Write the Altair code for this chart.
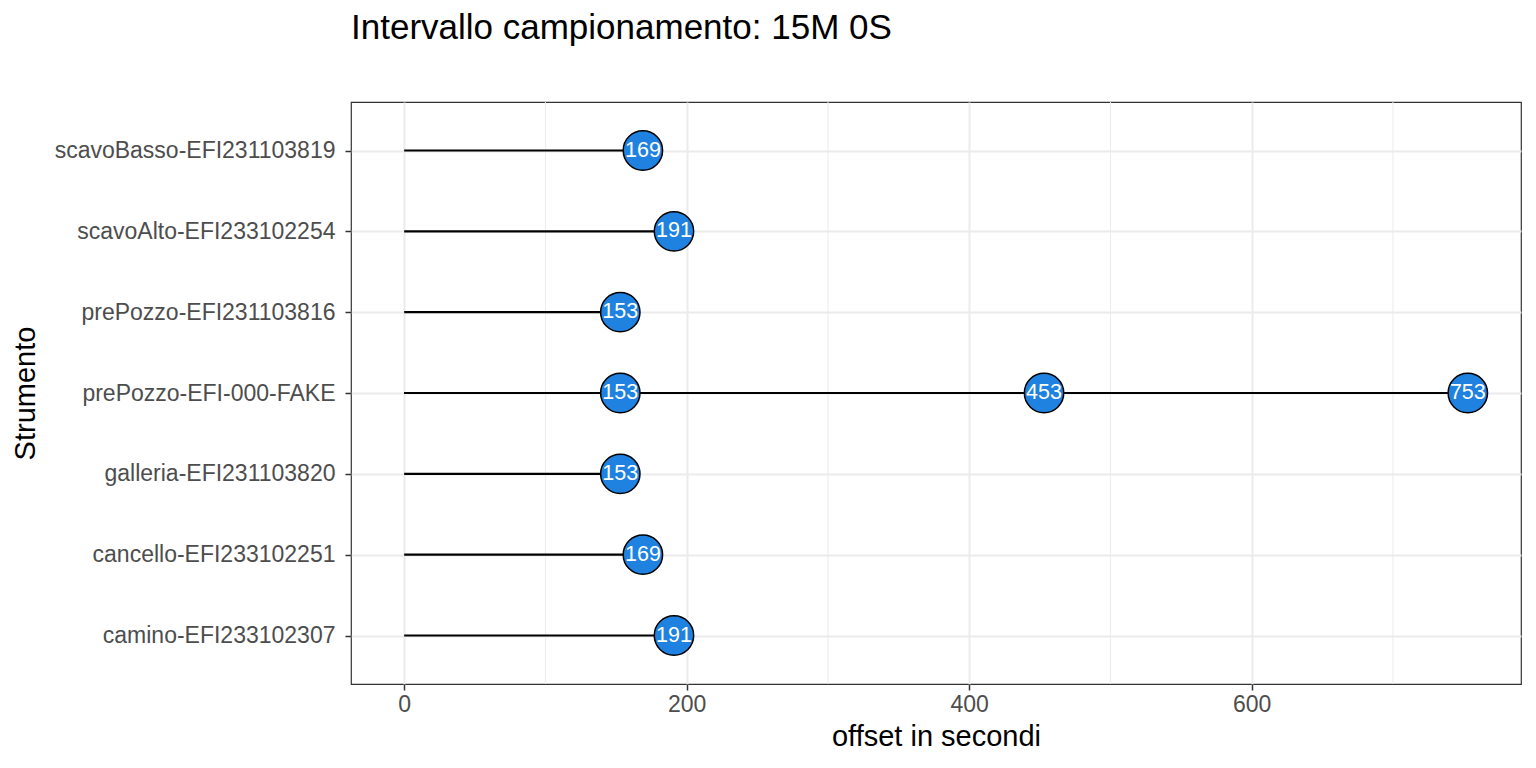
import altair as alt
import pandas as pd

instruments = [
    "scavoBasso-EFI231103819",
    "scavoAlto-EFI233102254",
    "prePozzo-EFI231103816",
    "prePozzo-EFI-000-FAKE",
    "prePozzo-EFI-000-FAKE",
    "prePozzo-EFI-000-FAKE",
    "galleria-EFI231103820",
    "cancello-EFI233102251",
    "camino-EFI233102307",
]
offsets = [169, 191, 153, 153, 453, 753, 153, 169, 191]

order = [
    "scavoBasso-EFI231103819",
    "scavoAlto-EFI233102254",
    "prePozzo-EFI231103816",
    "prePozzo-EFI-000-FAKE",
    "galleria-EFI231103820",
    "cancello-EFI233102251",
    "camino-EFI233102307",
]
major_breaks = [0, 200, 400, 600]
minor_breaks = [100, 300, 500, 700]
x_domain = [-37.65, 790.65]

df = pd.DataFrame({"strumento": instruments, "offset": offsets, "zero": [0] * len(offsets)})
minor_df = pd.DataFrame({"v": minor_breaks})

FONT = "Liberation Sans"

x_scale = alt.Scale(domain=x_domain, nice=False, zero=False)
y_scale = alt.Scale(type="point", domain=order, padding=0.6)

x_axis = alt.Axis(
    values=major_breaks, title="offset in secondi", grid=True,
    gridColor="#EBEBEB", gridWidth=2, domain=False,
    tickColor="#333333", tickSize=6, tickWidth=1.5,
    labelFont=FONT, labelFontSize=23, labelColor="#4D4D4D", labelPadding=3,
    titleFont=FONT, titleFontSize=29, titleColor="#000000", titleFontWeight="normal",
    titlePadding=6,
)
y_axis = alt.Axis(
    title="Strumento", grid=True, gridColor="#EBEBEB", gridWidth=2, domain=False,
    tickColor="#333333", tickSize=6, tickWidth=1.5,
    labelFont=FONT, labelFontSize=23, labelColor="#4D4D4D", labelPadding=10,
    labelLimit=500,
    titleFont=FONT, titleFontSize=29, titleColor="#000000", titleFontWeight="normal",
    titleX=-326, titleY=291, titleAngle=270, titleAlign="center", titleBaseline="middle",
)

minor = alt.Chart(minor_df).mark_rule(color="#EBEBEB", strokeWidth=1).encode(
    x=alt.X("v:Q", scale=x_scale, axis=x_axis)
)

base = alt.Chart(df)

segments = base.mark_rule(color="black", strokeWidth=2.2).encode(
    x=alt.X("zero:Q", scale=x_scale, axis=x_axis),
    x2="offset:Q",
    y=alt.Y("strumento:N", scale=y_scale, sort=order, axis=y_axis),
)

points = base.mark_circle(size=1550, opacity=1, color="#1F82E0", stroke="black", strokeWidth=1.5).encode(
    x=alt.X("offset:Q", scale=x_scale),
    y=alt.Y("strumento:N", scale=y_scale, sort=order),
)

labels = base.mark_text(color="white", font=FONT, fontSize=21.5, baseline="middle", align="center").encode(
    x=alt.X("offset:Q", scale=x_scale),
    y=alt.Y("strumento:N", scale=y_scale, sort=order),
    text="offset:Q",
)

chart = alt.layer(minor, segments, points, labels).properties(
    width=1170,
    height=582,
    title=alt.TitleParams(
        "Intervallo campionamento: 15M 0S", anchor="start", frame="group", font=FONT,
        fontSize=35, fontWeight="normal", color="#000000", offset=56,
    ),
    autosize=alt.AutoSizeParams(type="none"),
    padding={"left": 343, "top": 94, "right": 7, "bottom": 76},
).configure_view(stroke="#333333", strokeWidth=1.2)

chart.save("out.html", embed_options={"renderer": "svg", "actions": False})
